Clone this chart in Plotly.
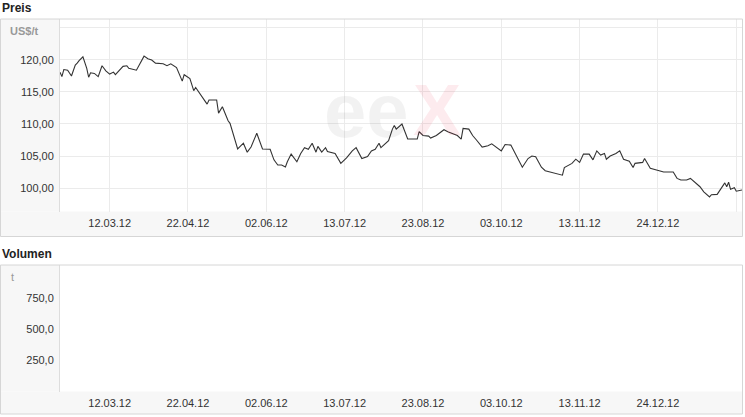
import plotly.graph_objects as go

# price series (US$/t)
dates = [
    "2012-02-15", "2012-02-16", "2012-02-17", "2012-02-19", "2012-02-21", "2012-02-23",
    "2012-02-24", "2012-02-25", "2012-02-27", "2012-02-29", "2012-03-01", "2012-03-02",
    "2012-03-04", "2012-03-06", "2012-03-08", "2012-03-10", "2012-03-12", "2012-03-14",
    "2012-03-15", "2012-03-17", "2012-03-19", "2012-03-21", "2012-03-22", "2012-03-26",
    "2012-03-30", "2012-04-01", "2012-04-03", "2012-04-05", "2012-04-09", "2012-04-11",
    "2012-04-13", "2012-04-16", "2012-04-19", "2012-04-20", "2012-04-23", "2012-04-25",
    "2012-04-26", "2012-05-02", "2012-05-03", "2012-05-07", "2012-05-08", "2012-05-10",
    "2012-05-13", "2012-05-14", "2012-05-18", "2012-05-21", "2012-05-23", "2012-05-25",
    "2012-05-28", "2012-05-31", "2012-06-04", "2012-06-06", "2012-06-08", "2012-06-10",
    "2012-06-12", "2012-06-13", "2012-06-15", "2012-06-18", "2012-06-20", "2012-06-22",
    "2012-06-24", "2012-06-26", "2012-06-28", "2012-06-29", "2012-07-01", "2012-07-03",
    "2012-07-04", "2012-07-08", "2012-07-11", "2012-07-14", "2012-07-17", "2012-07-19",
    "2012-07-22", "2012-07-25", "2012-07-27", "2012-07-29", "2012-07-31", "2012-08-01",
    "2012-08-05", "2012-08-07", "2012-08-08", "2012-08-09", "2012-08-12", "2012-08-15",
    "2012-08-20", "2012-08-21", "2012-08-23", "2012-08-26", "2012-08-27", "2012-08-30",
    "2012-09-03", "2012-09-05", "2012-09-10", "2012-09-12", "2012-09-13", "2012-09-16",
    "2012-09-18", "2012-09-20", "2012-09-23", "2012-09-26", "2012-09-28", "2012-10-03",
    "2012-10-05", "2012-10-08", "2012-10-14", "2012-10-17", "2012-10-19", "2012-10-21",
    "2012-10-24", "2012-10-26", "2012-11-01", "2012-11-04", "2012-11-05", "2012-11-09",
    "2012-11-11", "2012-11-13", "2012-11-15", "2012-11-18", "2012-11-20", "2012-11-22",
    "2012-11-24", "2012-11-26", "2012-11-27", "2012-11-29", "2012-12-02", "2012-12-04",
    "2012-12-06", "2012-12-09", "2012-12-11", "2012-12-12", "2012-12-16", "2012-12-17",
    "2012-12-20", "2012-12-24", "2012-12-27", "2013-01-01", "2013-01-03", "2013-01-05",
    "2013-01-08", "2013-01-10", "2013-01-15", "2013-01-17", "2013-01-20", "2013-01-21",
    "2013-01-24", "2013-01-28", "2013-01-29", "2013-01-30", "2013-01-31", "2013-02-02",
    "2013-02-03", "2013-02-06",
]
prices = [
    118.1, 117.4, 118.5, 118.4, 117.5, 119.2,
    119.5, 119.9, 120.5, 118.7, 117.3, 118.0,
    117.9, 117.4, 119.1, 118.3, 117.8, 118.1,
    117.7, 118.4, 119.0, 119.1, 118.7, 118.4,
    120.6, 120.2, 120.0, 119.5, 119.4, 119.1,
    119.4, 118.8, 116.7, 117.7, 117.1, 115.2,
    115.7, 113.1, 113.75, 113.75, 111.7, 112.7,
    110.5, 110.1, 106.1, 107.0, 105.6, 106.4,
    108.55, 106.1, 106.05, 104.4, 103.6, 103.6,
    103.3, 104.1, 105.3, 104.1, 105.4, 106.3,
    106.05, 107.0, 105.6, 106.5, 105.6, 106.3,
    105.7, 105.4, 103.85, 104.7, 105.8, 106.3,
    104.6, 104.9, 105.8, 106.05, 107.0, 106.3,
    107.4, 109.2, 109.75, 109.2, 110.0, 107.65,
    107.65, 108.8, 108.2, 108.1, 107.8, 108.2,
    109.1, 108.8, 108.2, 107.65, 109.3, 109.2,
    108.2, 107.5, 106.4, 106.6, 106.9, 105.8,
    106.8, 106.7, 103.25, 104.6, 105.0, 104.9,
    103.25, 102.7, 102.3, 102.0, 103.2, 103.85,
    104.5, 104.0, 105.3, 105.3, 104.4, 105.8,
    105.15, 105.4, 104.5, 105.0, 105.4, 105.8,
    104.5, 104.2, 103.2, 103.85, 104.0, 104.6,
    103.1, 102.7, 102.5, 102.5, 101.5, 101.25,
    101.25, 101.5, 100.2, 99.4, 98.6, 98.95,
    99.0, 100.8, 100.2, 100.9, 99.8, 100.05,
    99.5, 99.7,
]

# axis ticks
tick_dates = ["2012-03-12", "2012-04-22", "2012-06-02", "2012-07-13", "2012-08-23",
              "2012-10-03", "2012-11-13", "2012-12-24", "2013-02-03"]
tick_labels = ["12.03.12", "22.04.12", "02.06.12", "13.07.12", "23.08.12",
               "03.10.12", "13.11.12", "24.12.12", ""]
price_ticks = [100, 105, 110, 115, 120, 125]
price_labels = ["100,00", "105,00", "110,00", "115,00", "120,00", ""]
volume_ticks = [250, 500, 750]
volume_labels = ["250,0", "500,0", "750,0"]

W, H = 745, 417
FONT = "Arial, Liberation Sans, sans-serif"
GRID = "#ebebeb"
BAND = "#f7f7f7"
BORDER = "#d6d6d6"


def px(x):
    return x / W


def py(y):
    return 1 - y / H


fig = go.Figure()
fig.add_trace(go.Scatter(x=dates, y=prices, mode="lines", xaxis="x", yaxis="y",
                         line=dict(color="#333333", width=1.1), hoverinfo="skip"))
# volume panel has no data, empty trace just keeps the subplot
fig.add_trace(go.Scatter(x=[], y=[], mode="lines", xaxis="x2", yaxis="y2", hoverinfo="skip"))

x_common = dict(type="date", range=["2012-02-15", "2013-02-06"], tickvals=tick_dates,
                ticktext=tick_labels, ticks="", zeroline=False, showline=False,
                domain=[px(60), px(742)], tickfont=dict(size=11, color="#333"),
                ticklabelstandoff=3)

fig.update_layout(
    width=W, height=H, margin=dict(l=0, r=0, t=0, b=0),
    paper_bgcolor="white", plot_bgcolor="white", showlegend=False,
    font=dict(family=FONT, size=11, color="#333"),
    xaxis=dict(x_common, anchor="y", showgrid=True, gridcolor=GRID, gridwidth=1),
    yaxis=dict(domain=[py(211.5), py(19)], range=[96.33, 126.4], tickvals=price_ticks,
               ticktext=price_labels, showgrid=True, gridcolor=GRID, zeroline=False,
               anchor="x", showline=True, linecolor="#dddddd", ticks="", ticklabelstandoff=3),
    xaxis2=dict(x_common, anchor="y2", showgrid=False),
    yaxis2=dict(domain=[py(391.5), py(265)], range=[0, 1020], tickvals=volume_ticks,
                ticktext=volume_labels, showgrid=False, zeroline=False,
                anchor="x2", showline=True, linecolor="#dddddd", ticks="", ticklabelstandoff=3),
)

# panel backgrounds and frames
shapes = []
for top, mid, bot in [(19, 211.5, 236.5), (265, 391.5, 414)]:
    shapes.append(dict(type="rect", xref="paper", yref="paper", layer="below",
                       x0=px(0.5), x1=px(60), y0=py(mid), y1=py(top),
                       fillcolor=BAND, line=dict(width=0)))
    shapes.append(dict(type="rect", xref="paper", yref="paper", layer="below",
                       x0=px(0.5), x1=px(742.5), y0=py(bot), y1=py(mid),
                       fillcolor=BAND, line=dict(width=0)))
    shapes.append(dict(type="rect", xref="paper", yref="paper", layer="above",
                       x0=px(0.5), x1=px(742.5), y0=py(bot), y1=py(top),
                       fillcolor="rgba(0,0,0,0)", line=dict(color=BORDER, width=1)))
fig.update_layout(shapes=shapes)

# titles, units, watermark
notes = [
    dict(text="Preis", x=px(0), y=py(8), font=dict(size=12, color="#222", weight="bold")),
    dict(text="Volumen", x=px(0), y=py(254), font=dict(size=12, color="#222", weight="bold")),
    dict(text="US$/t", x=px(8), y=py(31), font=dict(size=11, color="#999", weight="bold")),
    dict(text="t", x=px(9), y=py(277), font=dict(size=11, color="#999")),
]
for n in notes:
    fig.add_annotation(xref="paper", yref="paper", xanchor="left", yanchor="middle",
                       showarrow=False, **n)
# faint "eeX" logo behind the line
fig.add_annotation(text="ee", xref="paper", yref="paper", x=px(411), y=py(110),
                   xanchor="right", yanchor="middle", showarrow=False,
                   font=dict(family=FONT, size=76, color="rgba(0,0,0,0.05)", weight="bold"))
fig.add_annotation(text="X", xref="paper", yref="paper", x=px(411), y=py(110),
                   xanchor="left", yanchor="middle", showarrow=False,
                   font=dict(family=FONT, size=72, color="rgba(235,30,70,0.09)", weight="bold"))

# drop the default page margin so the figure sits at the top-left corner
fig.write_html("out.html", config={"displayModeBar": False},
               post_script="document.body.style.margin='0';")
